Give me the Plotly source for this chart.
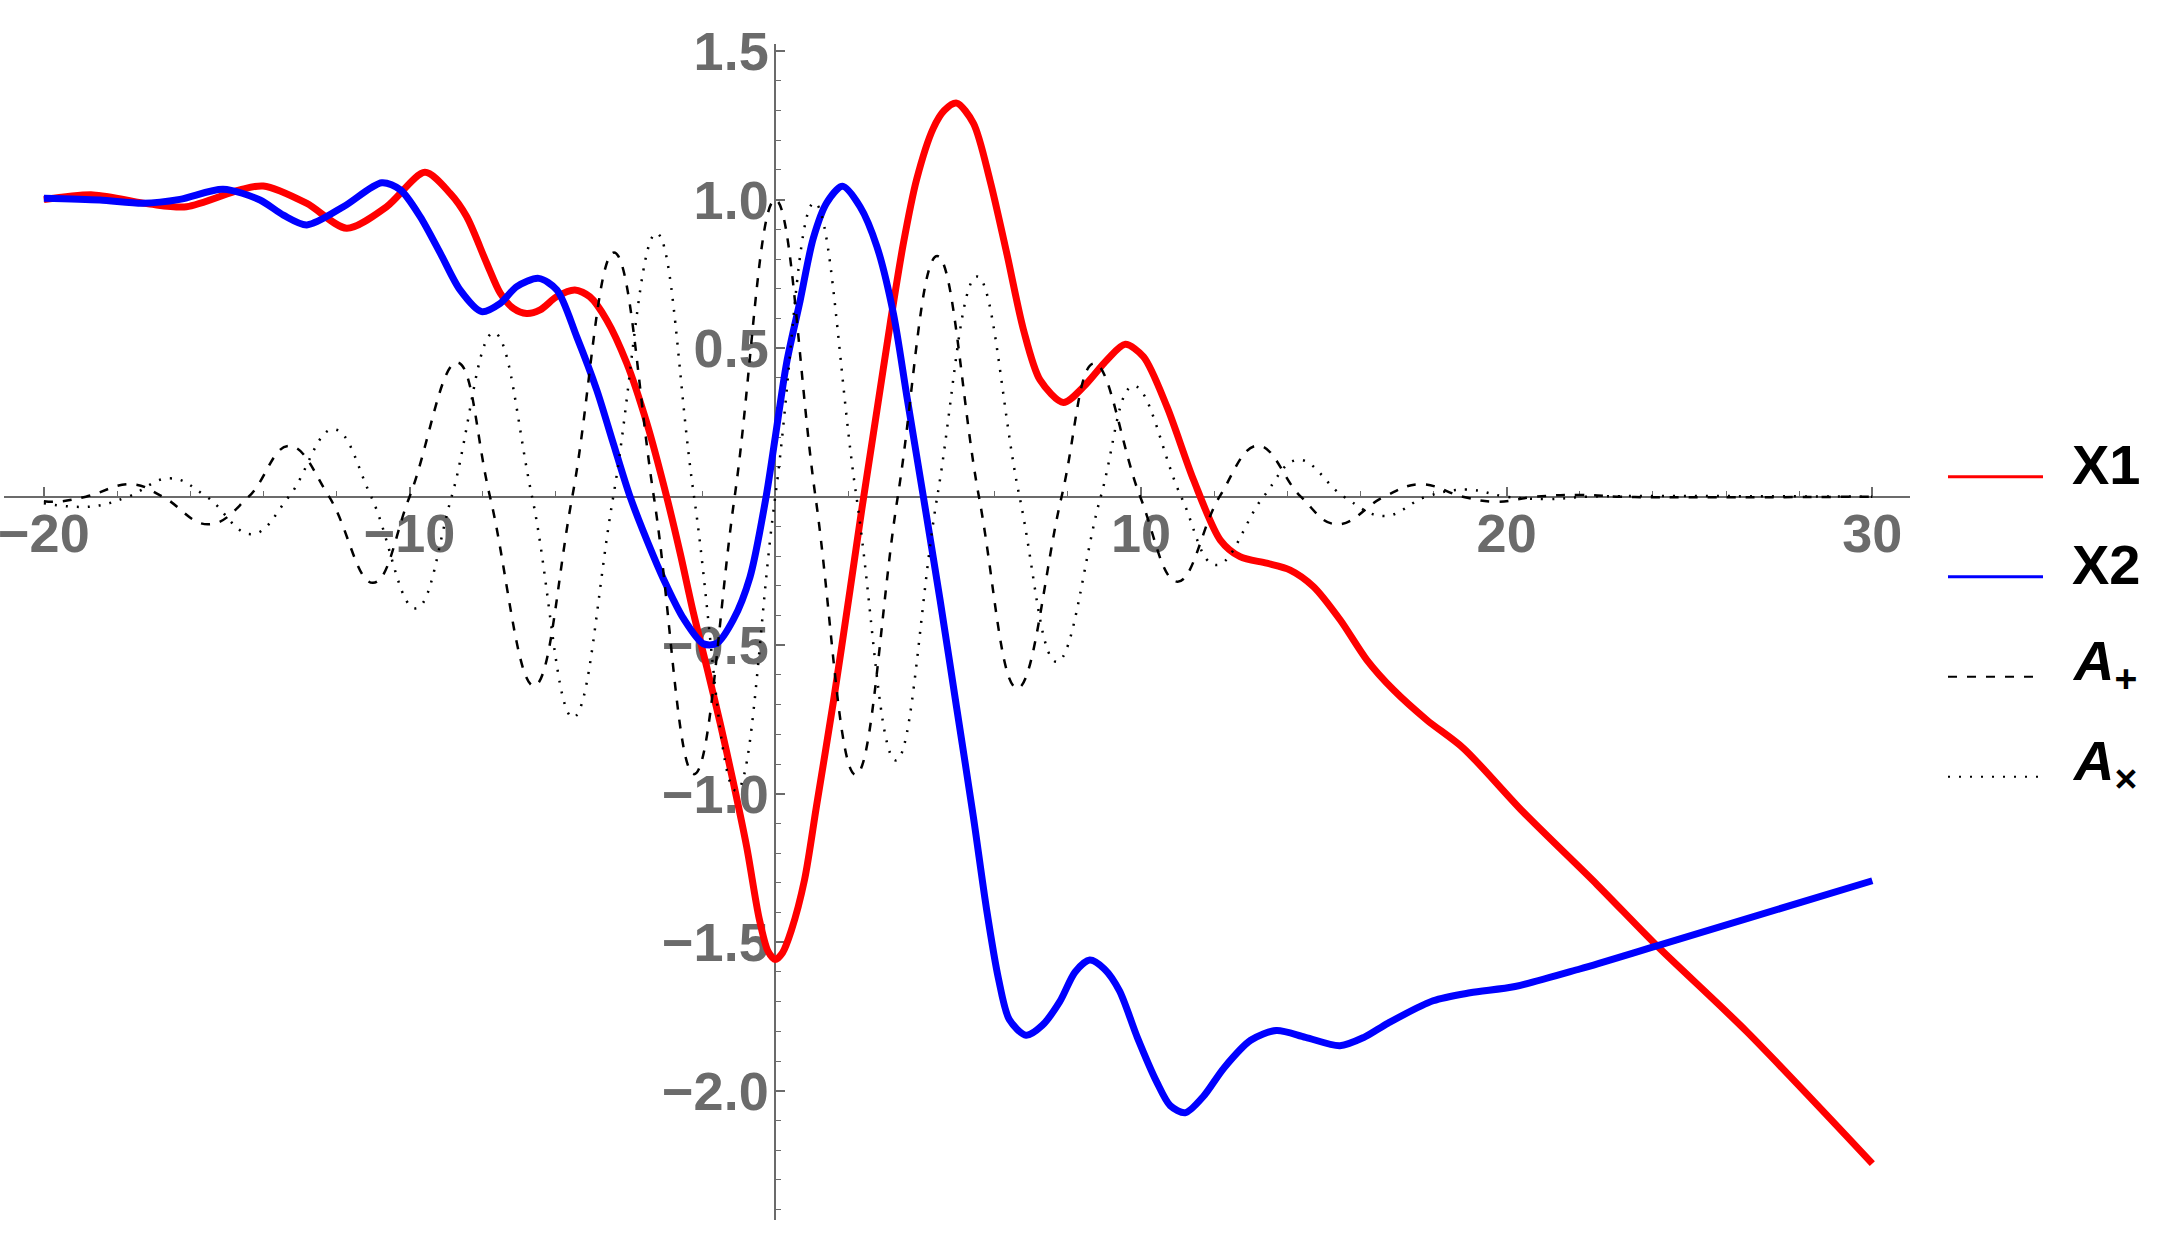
import plotly.graph_objects as go

# ---- data ----
x1_t = [-20.0, -18.65, -17.1, -16.1, -14.64, -14.0, -12.82, -11.72, -10.63, -9.58, -8.89,
        -8.44, -7.89, -7.52, -7.16, -6.80, -6.43, -5.98, -5.48, -5.07, -4.61, -4.06, -3.51,
        -2.97, -2.60, -2.24, -1.87, -1.51, -1.15, -0.78, -0.44, -0.2, 0.0, 0.2, 0.44, 0.8,
        1.13, 1.59, 2.05, 2.37, 2.78, 3.14, 3.50, 3.87, 4.32, 4.62, 4.96, 5.42, 5.87, 6.33,
        6.79, 7.24, 7.88, 8.43, 9.07, 9.57, 10.07, 10.71, 11.44, 12.17, 12.71, 13.44, 14.08,
        14.72, 15.45, 16.18, 16.91, 17.82, 18.82, 20.44, 22.48, 24.11, 26.56, 30.0]
x1_v = [1.0, 1.016, 0.985, 0.976, 1.033, 1.046, 0.988, 0.904, 0.976, 1.092, 1.021,
        0.943, 0.786, 0.685, 0.634, 0.617, 0.629, 0.673, 0.696, 0.673, 0.595, 0.449, 0.247,
        0.0, -0.19, -0.39, -0.575, -0.76, -0.96, -1.18, -1.42, -1.53, -1.558, -1.535, -1.46,
        -1.29, -1.04, -0.69, -0.31, -0.04, 0.29, 0.58, 0.85, 1.07, 1.24, 1.30, 1.325, 1.257,
        1.066, 0.82, 0.561, 0.393, 0.317, 0.370, 0.46, 0.513, 0.471, 0.303, 0.056, -0.146,
        -0.202, -0.224, -0.247, -0.303, -0.415, -0.55, -0.651, -0.752, -0.847, -1.06, -1.307,
        -1.512, -1.80, -2.245]

x2_t = [-20.0, -18.47, -17.28, -16.28, -15.1, -14.09, -13.45, -12.81, -11.81, -10.76, -10.25,
        -9.71, -9.16, -8.62, -8.03, -7.52, -7.07, -6.47, -5.97, -5.43, -4.88, -4.43, -3.97,
        -3.33, -2.97, -2.51, -1.97, -1.60, -1.15, -0.69, -0.25, 0.0, 0.31, 0.68, 1.04, 1.41,
        1.84, 2.32, 2.78, 3.23, 3.60, 4.05, 4.51, 4.96, 5.42, 5.78, 6.1, 6.4, 6.86, 7.3, 7.78,
        8.2, 8.6, 9.0, 9.41, 9.9, 10.43, 10.8, 11.21, 11.7, 12.27, 13.0, 13.7, 14.5, 15.44,
        16.1, 16.76, 17.99, 19.0, 20.23, 22.0, 24.11, 30.0]
x2_v = [1.005, 0.999, 0.988, 1.001, 1.035, 0.999, 0.948, 0.915, 0.976, 1.057, 1.033,
        0.943, 0.82, 0.696, 0.623, 0.651, 0.707, 0.735, 0.696, 0.539, 0.359, 0.18, 0.0,
        -0.2, -0.30, -0.41, -0.495, -0.494, -0.415, -0.27, 0.0, 0.2, 0.45, 0.66, 0.87, 0.99,
        1.045, 0.976, 0.842, 0.617, 0.337, 0.0, -0.35, -0.71, -1.08, -1.39, -1.62, -1.76,
        -1.813, -1.78, -1.70, -1.60, -1.56, -1.59, -1.663, -1.82, -1.97, -2.05, -2.074, -2.02,
        -1.923, -1.83, -1.797, -1.82, -1.848, -1.82, -1.772, -1.697, -1.67, -1.649, -1.59,
        -1.512, -1.293]

ap_t = [-20.0, -19.66, -18.85, -17.6, -16.75, -15.5, -14.4, -13.3, -12.2, -11.0, -10.0,
        -8.7, -7.8, -6.6, -5.55, -4.41, -3.32, -2.22, -1.11, 0.0, 1.1, 2.2, 3.35, 4.43,
        5.57, 6.62, 7.83, 8.72, 9.98, 11.0, 12.15, 13.2, 14.37, 15.35, 16.65, 17.65, 18.8,
        19.7, 20.8, 22.0, 23.1, 24.2, 30.0]
ap_v = [-0.015, -0.017, 0.0, 0.042, 0.0, -0.093, 0.0, 0.171, 0.0, -0.29, 0.0,
        0.452, 0.0, -0.637, 0.0, 0.822, 0.0, -0.934, 0.0, 1.0, 0.0, -0.936, 0.0, 0.81,
        0.0, -0.645, 0.0, 0.449, 0.0, -0.286, 0.0, 0.172, 0.0, -0.093, 0.0, 0.042, 0.0,
        -0.017, 0.0, 0.006, 0.0, -0.002, 0.0]

ax_t = [-20.0, -18.7, -17.7, -16.55, -15.55, -14.32, -13.3, -12.08, -11.05, -9.84, -8.85,
        -7.70, -6.65, -5.53, -4.43, -3.25, -2.22, -1.07, 0.0, 1.07, 2.22, 3.3, 4.43, 5.52,
        6.68, 7.70, 8.9, 9.8, 11.1, 12.05, 13.35, 14.3, 15.55, 16.65, 17.8, 18.9, 20.0,
        21.1, 22.2, 23.3, 30.0]
ax_v = [-0.022, -0.033, 0.0, 0.062, 0.0, -0.126, 0.0, 0.227, 0.0, -0.376, 0.0,
        0.552, 0.0, -0.743, 0.0, 0.887, 0.0, -0.99, 0.0, 0.99, 0.0, -0.888, 0.0, 0.741,
        0.0, -0.556, 0.0, 0.373, 0.0, -0.23, 0.0, 0.124, 0.0, -0.065, 0.0, 0.024, 0.0,
        -0.008, 0.0, 0.002, 0.0]

x_ticks = [-20, -10, 10, 20, 30]
x_ticktext = ["\u221220", "\u221210", "10", "20", "30"]
y_ticks = [-2.0, -1.5, -1.0, -0.5, 0.5, 1.0, 1.5]
y_ticktext = ["\u22122.0", "\u22121.5", "\u22121.0", "\u22120.5", "0.5", "1.0", "1.5"]

legend_items = [
    ("<b>X1</b>", "#ff0000", 3, "solid"),
    ("<b>X2</b>", "#0000ff", 3, "solid"),
    ("<b><i>A</i><sub>+</sub></b>", "black", 2, "9px,10px"),
    ("<b><i>A</i><sub>\u00d7</sub></b>", "black", 2, "2px,9px"),
]

# ---- layout constants (pixels) ----
W, H = 2170, 1238
L, R, T, B = 4, 260, 44, 18
x_range = [-21.09, 31.03]
y_range = [-2.435, 1.524]

AXIS_COLOR = "#6b6b6b"
FONT = "Liberation Sans, Arial, sans-serif"


def paper_x(px):
    return (px - L) / (W - L - R)


def paper_y(py):
    return (H - B - py) / (H - T - B)


fig = go.Figure()

fig.add_trace(go.Scatter(x=x1_t, y=x1_v, mode="lines", name="X1",
                         line=dict(color="#ff0000", width=7, shape="spline", smoothing=0.8)))
fig.add_trace(go.Scatter(x=x2_t, y=x2_v, mode="lines", name="X2",
                         line=dict(color="#0000ff", width=7, shape="spline", smoothing=0.8)))
fig.add_trace(go.Scatter(x=ap_t, y=ap_v, mode="lines", name="A+",
                         line=dict(color="black", width=2.5, dash="9px,10px",
                                   shape="spline", smoothing=1.2)))
fig.add_trace(go.Scatter(x=ax_t, y=ax_v, mode="lines", name="Ax",
                         line=dict(color="black", width=2.5, dash="2px,9px",
                                   shape="spline", smoothing=1.2)))

# axes cross at the origin
x_pos = -y_range[0] / (y_range[1] - y_range[0])
y_pos = -x_range[0] / (x_range[1] - x_range[0])

tickfont = dict(family=FONT, size=54, color=AXIS_COLOR, weight="bold")

fig.update_layout(
    width=W, height=H,
    margin=dict(l=L, r=R, t=T, b=B, autoexpand=False),
    plot_bgcolor="white", paper_bgcolor="white",
    showlegend=False,
    xaxis=dict(
        range=x_range, anchor="free", position=x_pos, side="bottom",
        showgrid=False, zeroline=False, showline=True, linecolor=AXIS_COLOR, linewidth=1.5,
        tickmode="array", tickvals=x_ticks, ticktext=x_ticktext,
        ticks="inside", ticklen=9, tickwidth=1.5, tickcolor=AXIS_COLOR,
        minor=dict(dtick=2, tick0=0, ticks="inside", ticklen=5, tickwidth=1, tickcolor=AXIS_COLOR),
        tickfont=tickfont, ticklabelstandoff=-10, ticklabeloverflow="allow",
        layer="below traces", automargin=False,
    ),
    yaxis=dict(
        range=y_range, anchor="free", position=y_pos, side="left",
        showgrid=False, zeroline=False, showline=True, linecolor=AXIS_COLOR, linewidth=1.5,
        tickmode="array", tickvals=y_ticks, ticktext=y_ticktext,
        ticks="inside", ticklen=9, tickwidth=1.5, tickcolor=AXIS_COLOR,
        minor=dict(dtick=0.1, tick0=0, ticks="inside", ticklen=5, tickwidth=1, tickcolor=AXIS_COLOR),
        tickfont=tickfont, ticklabelstandoff=-5, ticklabeloverflow="allow",
        layer="below traces", automargin=False,
    ),
)

# legend drawn by hand on the right
row_y = [476.7, 576.7, 676.7, 776.7]
for (label, color, width, dash), py in zip(legend_items, row_y):
    fig.add_shape(type="line", xref="paper", yref="paper",
                  x0=paper_x(1948), x1=paper_x(2043), y0=paper_y(py), y1=paper_y(py),
                  line=dict(color=color, width=width, dash=dash))
    fig.add_annotation(x=paper_x(2070), y=paper_y(py - 12), xref="paper", yref="paper",
                       text=label, showarrow=False, xanchor="left", yanchor="middle",
                       font=dict(family=FONT, size=56, color="black"))

# page body has an 8px default margin; drop it so the figure sits at the window's corner
fig.write_html("out.html", config={"displayModeBar": False},
               post_script="document.body.style.margin='0px';")
